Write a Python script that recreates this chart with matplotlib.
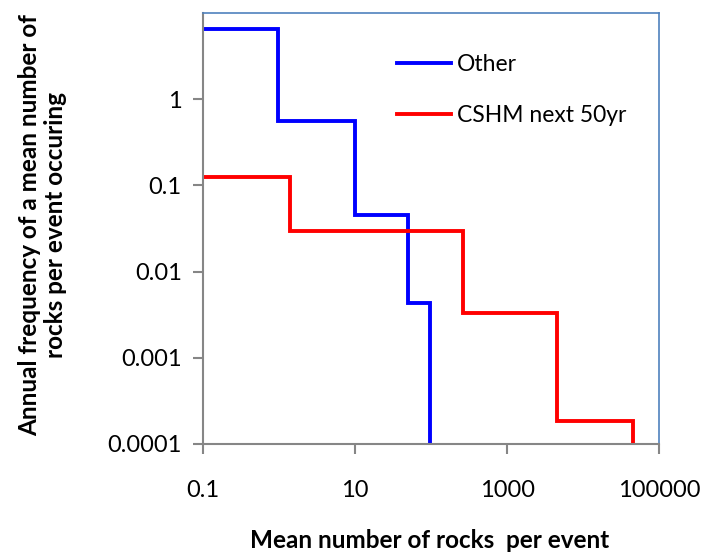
import matplotlib
matplotlib.use("Agg")
import matplotlib.pyplot as plt
from matplotlib.ticker import FixedLocator, NullLocator

plt.rcParams['font.family'] = ['Lato', 'DejaVu Sans']

# step curves: rock count where each level starts, and its annual frequency
other_x = [0.1, 0.97, 10, 50, 98]
other_y = [6.5, 0.56, 0.0455, 0.00438, 0.0001]

cshm_x = [0.1, 1.41, 260, 4500, 45000]
cshm_y = [0.126, 0.0297, 0.00335, 0.000185, 0.0001]

xticks = [0.1, 10, 1000, 100000]
xtick_labels = ['0.1', '10', '1000', '100000']
yticks = [0.0001, 0.001, 0.01, 0.1, 1]
ytick_labels = ['0.0001', '0.001', '0.01', '0.1', '1']

W, H = 703, 554
fig = plt.figure(figsize=(W / 100, H / 100), dpi=100)
ax = fig.add_axes([202.7 / W, 1 - 444 / H, 456.6 / W, 431 / H])

ax.plot(other_x, other_y, drawstyle='steps-post', color='#0000FF', lw=2.8,
        solid_joinstyle='miter', label='Other')
ax.plot(cshm_x, cshm_y, drawstyle='steps-post', color='#FF0000', lw=2.8,
        solid_joinstyle='miter', label='CSHM next 50yr')

ax.set_xscale('log')
ax.set_yscale('log')
ax.set_xlim(0.1, 100000)
ax.set_ylim(0.0001, 10)

ax.xaxis.set_major_locator(FixedLocator(xticks))
ax.xaxis.set_minor_locator(NullLocator())
ax.set_xticklabels(xtick_labels)
ax.yaxis.set_major_locator(FixedLocator(yticks))
ax.yaxis.set_minor_locator(NullLocator())
ax.set_yticklabels(ytick_labels)

ax.tick_params(direction='out', length=7, width=1.5, color='#868686',
               labelsize=17, labelcolor='black', pad=8)
ax.tick_params(axis='x', pad=19)

for side in ['left', 'bottom']:
    ax.spines[side].set_color('#868686')
    ax.spines[side].set_linewidth(1.5)
for side in ['top', 'right']:
    ax.spines[side].set_color('#4F81BD')
    ax.spines[side].set_linewidth(1.2)

ax.legend(loc='upper left', bbox_to_anchor=(0.4255, 0.904), frameon=False,
          fontsize=16.5, handlelength=2.35, handletextpad=0.25,
          labelspacing=1.3, borderpad=0, borderaxespad=0)

fig.text(430 / W, 1 - 540 / H, 'Mean number of rocks  per event',
         ha='center', va='center', fontsize=17.5, fontweight='bold')
fig.text(43 / W, 1 - 225 / H,
         'Annual frequency of a mean number of\nrocks per event occuring',
         ha='center', va='center', rotation=90, fontsize=17.5,
         fontweight='bold', linespacing=1.15, multialignment='center')

fig.savefig('out.png', dpi=100)
